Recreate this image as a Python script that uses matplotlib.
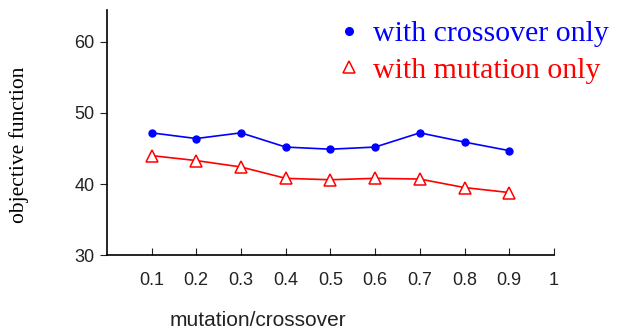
import matplotlib
matplotlib.use("Agg")
import matplotlib.pyplot as plt
from matplotlib.lines import Line2D

x = [0.1, 0.2, 0.3, 0.4, 0.5, 0.6, 0.7, 0.8, 0.9]
crossover_only = [47.2, 46.4, 47.2, 45.2, 44.9, 45.2, 47.2, 45.9, 44.7]
mutation_only = [44.0, 43.3, 42.4, 40.8, 40.6, 40.8, 40.7, 39.5, 38.8]
xticks = [0.1, 0.2, 0.3, 0.4, 0.5, 0.6, 0.7, 0.8, 0.9, 1]
xticklabels = ["0.1", "0.2", "0.3", "0.4", "0.5", "0.6", "0.7", "0.8", "0.9", "1"]
yticks = [30, 40, 50, 60]

fig = plt.figure(figsize=(6.21, 3.30), dpi=100)
ax = fig.add_axes([0.172, 0.227, 0.72, 0.743])

ax.plot(x, crossover_only, color="#0000ff", lw=1.2, marker="o", ms=5, mec="#0000ff", mfc="#0000ff")
ax.plot(x, mutation_only, color="#ff0000", lw=1.2, marker="^", ms=8, mec="#ff0000", mfc="white", mew=1.1)

ax.set_xlim(0, 1)
ax.set_ylim(30, 64.5)
ax.set_xticks(xticks)
ax.set_xticklabels(xticklabels)
ax.set_yticks(yticks)
for s in ["top", "right"]:
    ax.spines[s].set_visible(False)
for s in ["left", "bottom"]:
    ax.spines[s].set_linewidth(1.2)
ax.tick_params(axis="x", direction="in", length=5, pad=12, labelsize=13, colors="#222222")
ax.tick_params(axis="y", direction="out", length=5, pad=4, labelsize=13, colors="#222222")
for lab in ax.get_xticklabels() + ax.get_yticklabels():
    lab.set_family("Liberation Sans")

ax.set_ylabel("objective function", family="Liberation Serif", fontsize=15.5)
ax.yaxis.set_label_coords(-0.173, 0.449)
ax.set_xlabel("mutation/crossover", family="Liberation Sans", fontsize=15, color="#222222")
ax.xaxis.set_label_coords(0.338, -0.229)

handles = [
    Line2D([], [], ls="none", marker="o", ms=5.5, color="#0000ff"),
    Line2D([], [], ls="none", marker="^", ms=8, mec="#ff0000", mfc="white", mew=1.1),
]
leg = fig.legend(handles, ["with crossover only", "with mutation only"],
                 loc="upper left", bbox_to_anchor=(0.499, 1.02), frameon=False,
                 prop={"family": "Liberation Serif", "size": 21.5},
                 handlelength=0.8, handletextpad=0.4, labelspacing=0.33)
leg.get_texts()[0].set_color("#0000ff")
leg.get_texts()[1].set_color("#ff0000")

fig.savefig("out.png", dpi=100)
